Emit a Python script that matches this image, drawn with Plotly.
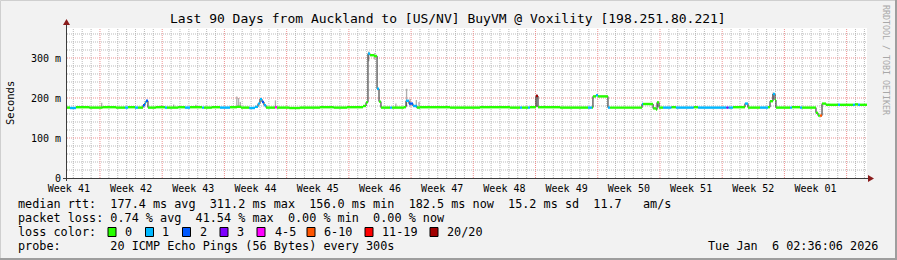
import plotly.graph_objects as go

# ---------------- data ----------------
# median rtt as a step series: start day of each step, value (ms), loss class index
seg_start = [0.00, 0.34, 1.01, 2.50, 4.00, 5.50, 6.52, 6.86, 7.65, 7.99,
             8.55, 8.77, 8.89, 9.11, 10.00, 11.02, 11.25, 12.50, 13.27, 13.84,
             15.19, 15.41, 16.30, 17.21, 18.34, 19.12, 19.57, 20.50, 21.15, 21.49,
             21.71, 21.94, 22.16, 22.39, 23.40, 23.62, 25.00, 26.21, 28.46, 30.00,
             31.50, 33.30, 33.64, 33.86, 34.09, 34.54, 34.88, 35.10, 35.32, 36.34,
             36.56, 37.91, 38.14, 38.47, 38.92, 39.36, 39.71, 43.09, 46.46, 49.84,
             50.96, 51.19, 51.86, 52.08, 52.76, 52.99, 55.47, 58.61, 59.06, 59.17,
             59.51, 59.73, 60.86, 61.09, 64.69, 64.80, 65.93, 66.27, 66.38, 66.60,
             67.05, 68.00, 68.50, 70.50, 71.00, 74.20, 74.40, 74.92, 76.27, 76.61,
             77.96, 78.86, 79.09, 79.42, 79.65, 79.76, 81.34, 81.56, 82.47, 82.69,
             84.26, 84.49, 84.71, 84.94, 85.39, 86.74, 86.96, 88.42, 88.64, 88.99,
             89.21]
seg_ms = [176, 175, 177, 176, 177, 176, 176, 177, 176, 176,
          182, 188, 193, 176, 177, 176, 176, 177, 176, 177,
          176, 176, 177, 176, 177, 178, 176, 175, 178, 186,
          197, 190, 182, 176, 177, 176, 175, 176, 177, 176,
          177, 180, 189, 311, 307, 305, 223, 191, 176, 176,
          176, 177, 193, 186, 180, 176, 177, 176, 177, 176,
          176, 176, 176, 177, 205, 177, 176, 176, 176, 204,
          207, 204, 176, 176, 185, 185, 174, 171, 189, 176,
          176, 177, 176, 177, 176, 176, 176, 177, 186, 176,
          176, 177, 192, 210, 195, 176, 176, 177, 176, 176,
          163, 156, 156, 186, 183, 183, 183, 183, 184, 183,
          183]
seg_loss = [0, 1, 0, 0, 0, 0, 1, 0, 1, 0,
            2, 1, 2, 0, 0, 1, 0, 0, 1, 0,
            1, 0, 0, 1, 0, 0, 0, 1, 1, 1,
            1, 2, 1, 0, 4, 0, 0, 0, 0, 0,
            0, 0, 0, 1, 0, 0, 1, 0, 0, 1,
            0, 0, 1, 2, 1, 0, 0, 0, 0, 0,
            1, 0, 1, 0, 7, 0, 0, 1, 0, 0,
            1, 0, 1, 0, 1, 0, 0, 0, 0, 0,
            1, 0, 1, 0, 1, 3, 1, 0, 1, 0,
            1, 0, 0, 1, 0, 0, 1, 0, 1, 0,
            0, 0, 5, 0, 0, 1, 0, 1, 0, 1,
            0]
end_day = 90.0

# smoke (ping spread) bars: day, low ms, high ms
smoke_day = [3.90, 10.60, 12.00, 14.50, 19.10, 19.30, 19.50, 23.45, 33.95, 34.60,
             37.00, 38.20, 38.60, 39.30, 39.60, 52.85, 66.45, 79.45]
smoke_lo = [176, 176, 176, 176, 176, 176, 176, 176, 292, 296,
            176, 180, 178, 176, 176, 178, 178, 196]
smoke_hi = [188, 182, 184, 183, 204, 200, 190, 194, 316, 312,
            186, 223, 198, 195, 190, 210, 192, 214]

week_labels = ["Week 41", "Week 42", "Week 43", "Week 44", "Week 45", "Week 46", "Week 47",
               "Week 48", "Week 49", "Week 50", "Week 51", "Week 52", "Week 01"]
week_label_pos = [0.21, 7.21, 14.21, 21.21, 28.21, 35.21, 42.21, 49.21, 56.21, 63.21, 70.21, 77.21, 84.21]
week_grid = [3.71, 10.71, 17.71, 24.71, 31.71, 38.71, 45.71, 52.71, 59.71, 66.71, 73.71, 80.71, 87.71]
y_ticks = [0, 100, 200, 300]
y_ticktext = ["0", "100 m", "200 m", "300 m"]
y_max = 375

loss_labels = ["0", "1", "2", "3", "4-5", "6-10", "11-19", "20/20"]
loss_colors = ["#26ff00", "#00b8ff", "#0059ff", "#7e00ff", "#ff00ff", "#ff5500", "#ff0000", "#a10000"]

title = "Last 90 Days from Auckland to [US/NV] BuyVM @ Voxility [198.251.80.221]"
row1 = "median rtt:  177.4 ms avg  311.2 ms max  156.0 ms min  182.5 ms now  15.2 ms sd  11.7   am/s"
row2 = "packet loss: 0.74 % avg  41.54 % max  0.00 % min  0.00 % now"
row3 = "loss color:"
row4 = "probe:       20 ICMP Echo Pings (56 Bytes) every 300s"
stamp = "Tue Jan  6 02:36:06 2026"

# ---------------- layout geometry ----------------
W, H = 897, 260
L, R, T, B = 67, 30, 28, 82
PW, PH = W - L - R, H - T - B
MONO = "DejaVu Sans Mono"


def px(x):
    return (x - L) / PW


def py(y):
    return (T + PH - y) / PH


def nb(s):
    return s.replace(" ", "\u00a0")


fig = go.Figure()

# smoke
fig.add_trace(go.Bar(x=smoke_day, base=smoke_lo, y=[h - l for h, l in zip(smoke_hi, smoke_lo)],
                     width=0.15, marker=dict(color="rgba(110,110,110,0.55)", line=dict(width=0)),
                     hoverinfo="skip", showlegend=False))

# thin black median step line
xs = seg_start + [end_day]
ys = seg_ms + [seg_ms[-1]]
fig.add_trace(go.Scatter(x=xs, y=ys, mode="lines", line=dict(color="#202020", width=1, shape="hv"),
                         hoverinfo="skip", showlegend=False))

# coloured median by loss class
for ci, col in enumerate(loss_colors):
    cx, cy = [], []
    for i in range(len(seg_start)):
        if seg_loss[i] != ci:
            continue
        x1 = seg_start[i + 1] if i + 1 < len(seg_start) else end_day
        cx += [seg_start[i], x1, None]
        cy += [seg_ms[i], seg_ms[i], None]
    if cx:
        fig.add_trace(go.Scatter(x=cx, y=cy, mode="lines", line=dict(color=col, width=2.4),
                                 hoverinfo="skip", showlegend=False))

shapes = []
GRID = "#b9b9b9"
MGRID = "#ee9090"
# minor grid
d = week_grid[0] - 3
while d < end_day:
    if all(abs(d - w) > 0.01 for w in week_grid):
        shapes.append(dict(type="line", xref="x", yref="y", x0=d, x1=d, y0=0, y1=y_max,
                           line=dict(color=GRID, width=1, dash="1px,1px"), layer="below"))
    d += 1
for v in range(20, y_max, 20):
    if v % 100:
        shapes.append(dict(type="line", xref="x", yref="y", x0=0, x1=end_day, y0=v, y1=v,
                           line=dict(color=GRID, width=1, dash="1px,1px"), layer="below"))
# major grid
for w in week_grid:
    shapes.append(dict(type="line", xref="x", yref="y", x0=w, x1=w, y0=0, y1=y_max,
                       line=dict(color=MGRID, width=1, dash="1px,1px"), layer="below"))
for v in y_ticks[1:]:
    shapes.append(dict(type="line", xref="x", yref="y", x0=0, x1=end_day, y0=v, y1=v,
                       line=dict(color=MGRID, width=1, dash="1px,1px"), layer="below"))

# axes lines and arrows (pixel geometry)
AX = "#3c3c3c"
ARW = "#8a1c1c"
shapes.append(dict(type="line", xref="paper", yref="paper", x0=px(63), x1=px(869), y0=py(178.5), y1=py(178.5),
                   line=dict(color=AX, width=1)))
shapes.append(dict(type="line", xref="paper", yref="paper", x0=px(66.5), x1=px(66.5), y0=py(181), y1=py(24),
                   line=dict(color=AX, width=1)))
shapes.append(dict(type="path", xref="paper", yref="paper",
                   path=f"M {px(868)} {py(175)} L {px(874)} {py(178.5)} L {px(868)} {py(182)} Z",
                   fillcolor=ARW, line=dict(color=ARW, width=0)))
shapes.append(dict(type="path", xref="paper", yref="paper",
                   path=f"M {px(63)} {py(25)} L {px(66.5)} {py(19)} L {px(70)} {py(25)} Z",
                   fillcolor=ARW, line=dict(color=ARW, width=0)))
# frame
shapes.append(dict(type="rect", xref="paper", yref="paper", x0=px(0.5), x1=px(W - 0.5), y0=py(0.5), y1=py(H - 0.5),
                   line=dict(color="#cfcfcf", width=1), layer="below"))
shapes.append(dict(type="line", xref="paper", yref="paper", x0=px(0), x1=px(W), y0=py(H - 1), y1=py(H - 1),
                   line=dict(color="#9e9e9e", width=2)))
shapes.append(dict(type="line", xref="paper", yref="paper", x0=px(W - 1), x1=px(W - 1), y0=py(0), y1=py(H),
                   line=dict(color="#9e9e9e", width=2)))

# legend boxes
box_x = [108, 145.5, 182.5, 220, 257, 307, 365, 430]
lab_x = [123, 160, 198, 235, 272.5, 322, 380, 445]
for bx, col in zip(box_x, loss_colors):
    shapes.append(dict(type="rect", xref="paper", yref="paper", x0=px(bx), x1=px(bx + 8),
                       y0=py(236.5), y1=py(227.5), fillcolor=col, line=dict(color="#000000", width=1)))

ann = []
ann.append(dict(text=nb(title), x=px(448), y=py(19), xref="paper", yref="paper", showarrow=False,
                xanchor="center", yanchor="middle", font=dict(family=MONO, size=13, color="#000")))
ann.append(dict(text="Seconds", x=px(10), y=py(103), xref="paper", yref="paper", showarrow=False,
                textangle=-90, xanchor="center", yanchor="middle", font=dict(family=MONO, size=10.5, color="#000")))
ann.append(dict(text=nb("RRDTOOL / TOBI OETIKER"), x=px(886), y=py(60), xref="paper", yref="paper",
                showarrow=False, textangle=90, xanchor="center", yanchor="middle",
                font=dict(family=MONO, size=8.3, color="#a8a8a8")))
LS = 11.8
for txt, yy in [(row1, 204), (row2, 218), (row3, 232), (row4, 246)]:
    ann.append(dict(text=nb(txt), x=px(16), y=py(yy), xref="paper", yref="paper", showarrow=False,
                    xanchor="left", yanchor="middle", font=dict(family=MONO, size=LS, color="#000")))
for lx, lab in zip(lab_x, loss_labels):
    ann.append(dict(text=lab, x=px(lx), y=py(232), xref="paper", yref="paper", showarrow=False,
                    xanchor="left", yanchor="middle", font=dict(family=MONO, size=LS, color="#000")))
ann.append(dict(text=nb(stamp), x=px(880), y=py(246), xref="paper", yref="paper", showarrow=False,
                xanchor="right", yanchor="middle", font=dict(family=MONO, size=LS, color="#000")))

fig.update_layout(
    width=W, height=H, margin=dict(l=L, r=R, t=T, b=B, pad=0),
    paper_bgcolor="#f2f2f2", plot_bgcolor="#ffffff",
    showlegend=False, barmode="overlay",
    shapes=shapes, annotations=ann,
    xaxis=dict(range=[0, end_day], showgrid=False, zeroline=False, showline=False,
               tickmode="array", tickvals=week_label_pos, ticktext=week_labels, ticks="",
               ticklabelstandoff=3,
               tickfont=dict(family=MONO, size=10, color="#000"), fixedrange=True),
    yaxis=dict(range=[0, y_max], showgrid=False, zeroline=False, showline=False,
               tickmode="array", tickvals=y_ticks, ticktext=y_ticktext, ticks="",
               ticklabelstandoff=5,
               tickfont=dict(family=MONO, size=10, color="#000"), fixedrange=True),
)

fig.write_html("out.html", config={"displayModeBar": False})
